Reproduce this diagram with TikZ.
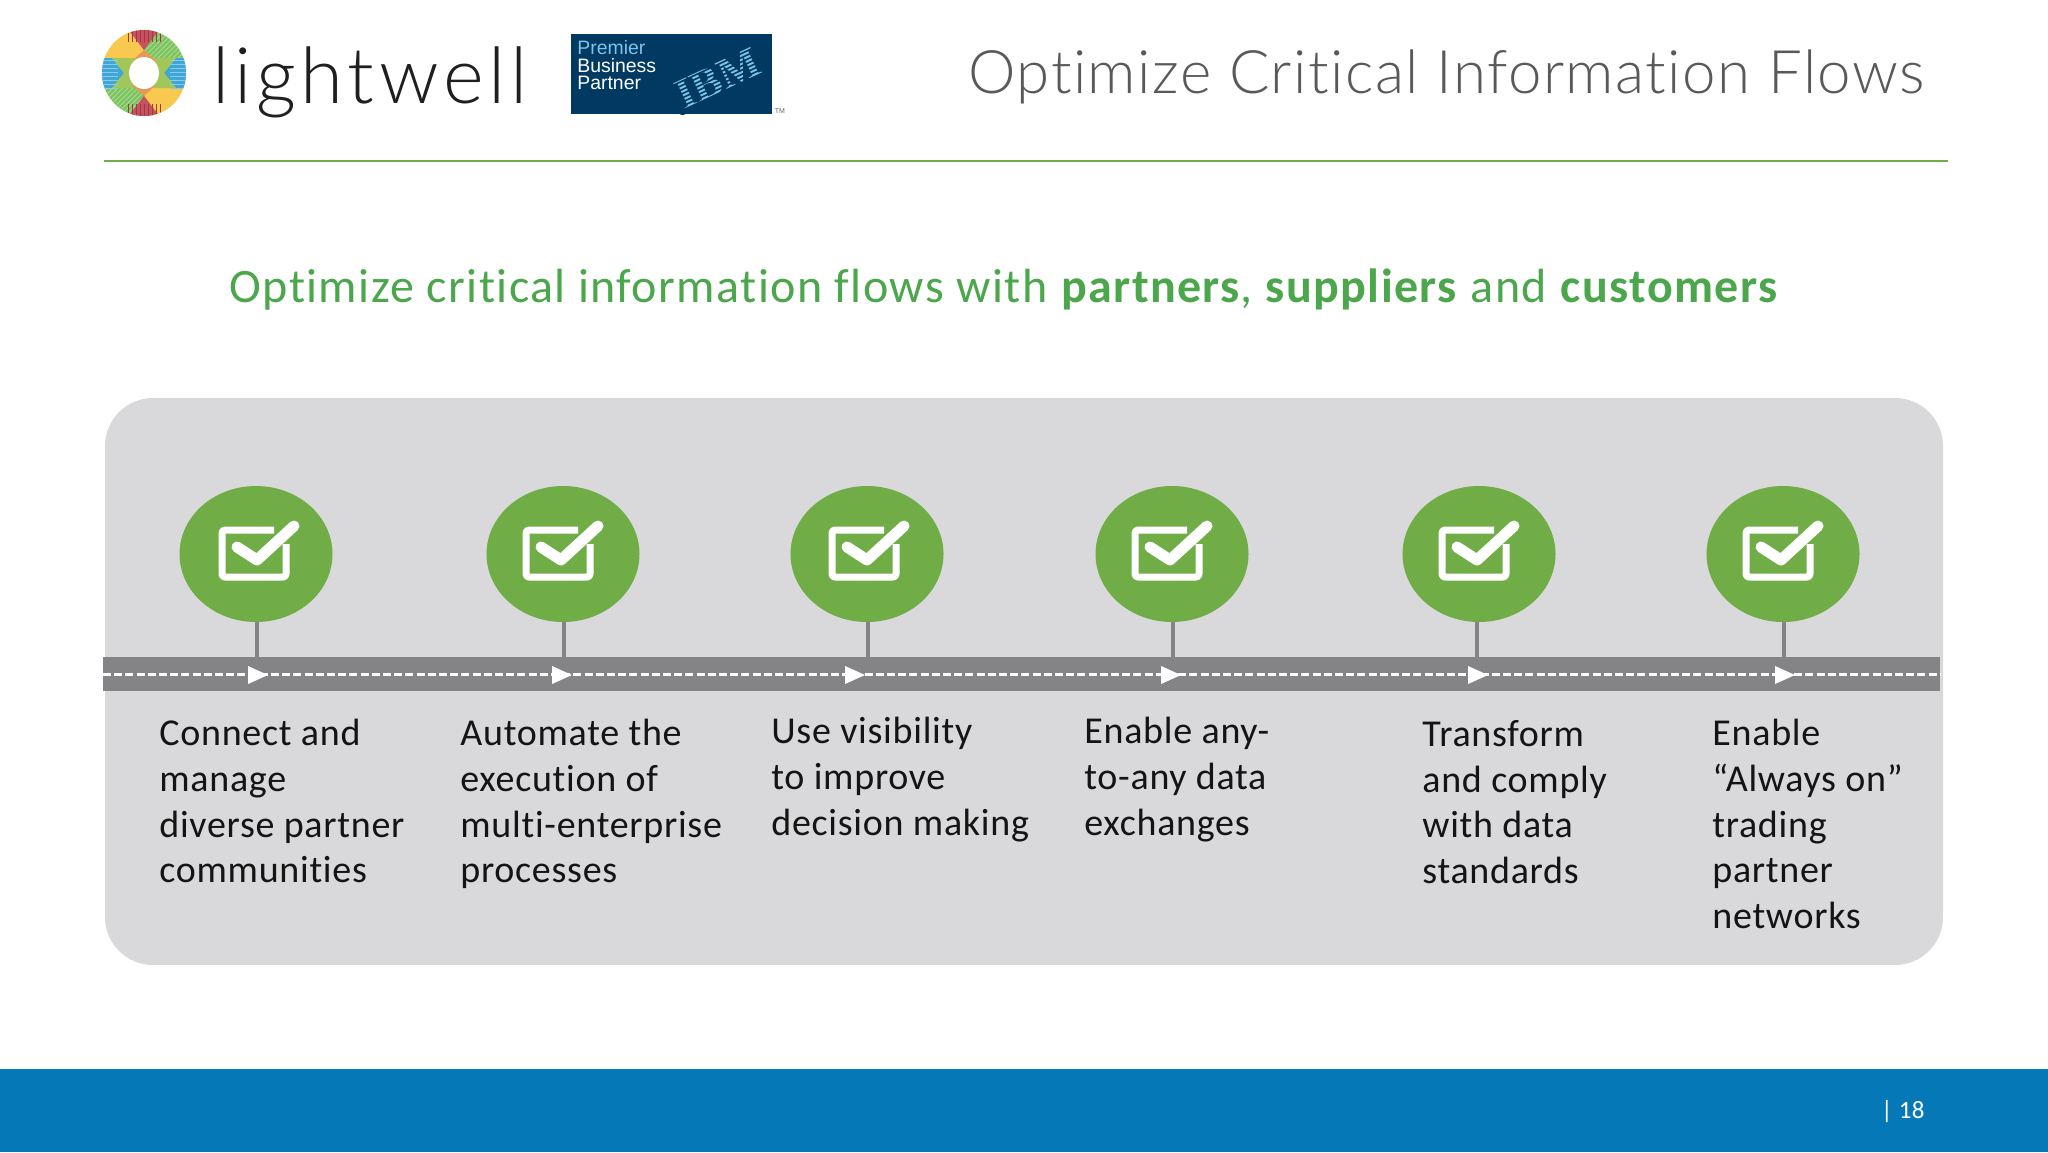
\documentclass[tikz,border=0pt]{standalone}
\usepackage{fontspec}
\setmainfont{Carlito}[Ligatures={NoCommon}]
\newfontfamily\bodyfont{Carlito}[Ligatures={NoCommon},LetterSpace=1.9]
\newfontfamily\headfont{Carlito}[Ligatures={NoCommon},LetterSpace=3.0]
\newfontfamily\titlefont{Lato Light}[Ligatures={NoCommon},LetterSpace=2.45]
\newfontfamily\logofont{Lato Light}[LetterSpace=6]
\newfontfamily\ibmfont{Liberation Sans}
\newfontfamily\ibmserif{Liberation Serif}
\usetikzlibrary{shapes.geometric}
\definecolor{lwgreen}{HTML}{70AD47}
\definecolor{headgreen}{HTML}{4CA64C}
\definecolor{panelgray}{HTML}{D9D9DB}
\definecolor{roadgray}{HTML}{848386}
\definecolor{footblue}{HTML}{0579B8}
\definecolor{ibmblue}{HTML}{003A63}
\definecolor{ibmlight}{HTML}{7CC4EC}
\definecolor{titlegray}{HTML}{595959}
\definecolor{logored}{HTML}{C9505E}
\definecolor{logoyellow}{HTML}{F9C94F}
\definecolor{logogreen}{HTML}{7CC45E}
\definecolor{logoblue}{HTML}{3FA6DA}
\tikzset{
  x=0.5pt,y=-0.5pt,
  dot/.style={ellipse,fill=lwgreen,minimum width=76.5pt,minimum height=68pt,inner sep=0pt},
  stem/.style={draw=roadgray,line width=1.6pt},
  coltext/.style={anchor=north west,align=left,inner sep=0pt,font=\bodyfont\fontsize{19}{22.8}\selectfont,text=black!92},
  boxline/.style={draw=white,line width=3.5pt,line join=round},
  tickline/.style={draw=white,line width=5.5pt,line cap=round,line join=round},
  ibmtext/.style={anchor=base west,inner sep=0pt,font=\ibmfont\fontsize{9.7}{10}\selectfont}
}
\begin{document}
\begin{tikzpicture}
\useasboundingbox (0,0) rectangle (2048,1152);
\fill[white] (0,0) rectangle (2048,1152);
% footer
\fill[footblue] (0,1069) rectangle (2048,1152);
\node[anchor=base east,inner sep=0pt,text=white,font=\bodyfont\fontsize{12.5}{12.5}\selectfont] (pageno) at (1925,1118) {| 18};
% rule
\draw[lwgreen,line width=1.2pt] (104,161) -- (1948,161);
% logo
\begin{scope}
\clip (144,73) ellipse (42 and 43);
\fill[logoyellow] (100,28) rectangle (144,73);
\fill[logogreen] (144,28) rectangle (190,73);
\fill[logogreen] (100,73) rectangle (144,118);
\fill[logoyellow] (144,73) rectangle (190,118);
\foreach \k in {-12,-7,...,110}{
  \draw[white!35!logogreen,line width=0.5pt] (100+\k,73) -- (100+\k+45,28);
  \draw[white!35!logogreen,line width=0.5pt] (100+\k-45,118) -- (100+\k,73);
}
\fill[logoyellow] (100,28) -- (144,28) -- (144,50) -- (124,73) -- (100,73) -- cycle;
\fill[logoyellow] (190,118) -- (144,118) -- (144,96) -- (164,73) -- (190,73) -- cycle;
\fill[logored] (127,28) -- (161,28) -- (144,50) -- cycle;
\fill[logored] (127,118) -- (161,118) -- (144,96) -- cycle;
\fill[logoblue] (100,58) -- (112,58) -- (124,73) -- (112,88) -- (100,88) -- cycle;
\fill[logoblue] (188,58) -- (176,58) -- (164,73) -- (176,88) -- (188,88) -- cycle;
\fill[logogreen!70!logoyellow] (112,58) -- (134,58) -- (144,73) -- (134,88) -- (112,88) -- (124,73) -- cycle;
\fill[logogreen!70!logoyellow] (176,58) -- (154,58) -- (144,73) -- (154,88) -- (176,88) -- (164,73) -- cycle;
\fill[logoyellow!60!logored] (144,50) -- (156,61) -- (144,73) -- (132,61) -- cycle;
\fill[logoyellow!60!logored] (144,96) -- (156,85) -- (144,73) -- (132,85) -- cycle;
\foreach \k in {60,64,...,88}{
  \draw[white!40!logoblue,line width=0.5pt] (100,\k) -- (118,\k);
  \draw[white!40!logoblue,line width=0.5pt] (170,\k) -- (190,\k);
}
\foreach \k in {128,132,...,160}{
  \draw[logored!75!black,line width=0.5pt] (\k,28) -- (\k,42);
  \draw[logored!75!black,line width=0.5pt] (\k,104) -- (\k,118);
}
\end{scope}
\fill[white] (144,73) ellipse (15 and 16);
\node[anchor=base west,inner sep=0pt,text=black!88,font=\logofont\fontsize{39}{39}\selectfont] (logotext) at (212,103) {lightwell};
% IBM badge
\fill[ibmblue] (571,34) rectangle (772,114);
\node[ibmtext,text=ibmlight] (bp1) at (577,54) {Premier};
\node[ibmtext,text=white] (bp2) at (577,72) {Business};
\node[ibmtext,text=white] (bp3) at (577,89) {Partner};
\node[rotate=25,inner sep=0pt,text=ibmlight,font=\ibmserif\bfseries\fontsize{22}{22}\selectfont] (ibmlogo) at (718,79) {IBM};
\begin{scope}
\clip (571,34) rectangle (772,114);
\begin{scope}[shift={(718,79)},rotate=25]
\foreach \k in {-17,-13.2,...,18}{
  \draw[ibmblue,line width=0.8pt] (-50,\k) -- (50,\k);
}
\end{scope}
\end{scope}
\node[inner sep=0pt,text=black!60,font=\ibmfont\fontsize{3.5}{4}\selectfont] (tm) at (780,111) {TM};
% title
\node[anchor=base east,inner sep=0pt,text=titlegray,font=\titlefont\fontsize{30}{30}\selectfont] (title) at (1925,93) {Optimize Critical Information Flows};
% headline
\node[anchor=base west,inner sep=0pt,text=headgreen,font=\headfont\fontsize{24}{24}\selectfont] (head) at (229,302) {Optimize critical information flows with \textbf{partners}, \textbf{suppliers} and \textbf{customers}};
% panel
\fill[panelgray,rounded corners=24pt] (105,398) rectangle (1943,965);
% road
\node[rectangle,fill=roadgray,inner sep=0pt,minimum width=918.5pt,minimum height=17pt,anchor=north west] (road) at (103,657) {};
\draw[white,line width=1.3pt,dash pattern=on 4pt off 1.6pt] (road.west) -- (road.east);
% dots, stems, arrows
\foreach \n/\cx/\sx/\ax/\ix in {1/256/257/248/256,2/563/564/552/560,3/867/868/845/866,4/1172/1173/1161/1169,5/1479/1477/1468/1476,6/1783/1784/1775/1780}{
  \node[dot] (c\n) at (\cx,554) {};
  \coordinate (s\n) at (\sx,657);
  \draw[stem] (c\n.south -| s\n) -- (s\n);
  \fill[white] (\ax,666) -- (\ax+20,675) -- (\ax,684) -- cycle;
  \begin{scope}[shift={(\ix,554)}]
    \draw[boxline,rounded corners=1.5pt] (18,-24) -- (-34,-24) -- (-34,23) -- (30,23) -- (30,-10);
    \draw[tickline] (-19,-7) -- (1,6) -- (38,-28);
  \end{scope}
}
% column text
\node[coltext] (t1) at (159,719) {Connect and\\manage\\diverse partner\\communities};
\node[coltext] (t2) at (460,719) {Automate the\\execution of\\multi-enterprise\\processes};
\node[coltext] (t3) at (771,717) {Use visibility\\to improve\\decision making};
\node[coltext] (t4) at (1084,717) {Enable any-\\to-any data\\exchanges};
\node[coltext] (t5) at (1422,720) {Transform\\and comply\\with data\\standards};
\node[coltext] (t6) at (1712,719) {Enable\\“Always on”\\trading\\partner\\networks};
\end{tikzpicture}
\end{document}
